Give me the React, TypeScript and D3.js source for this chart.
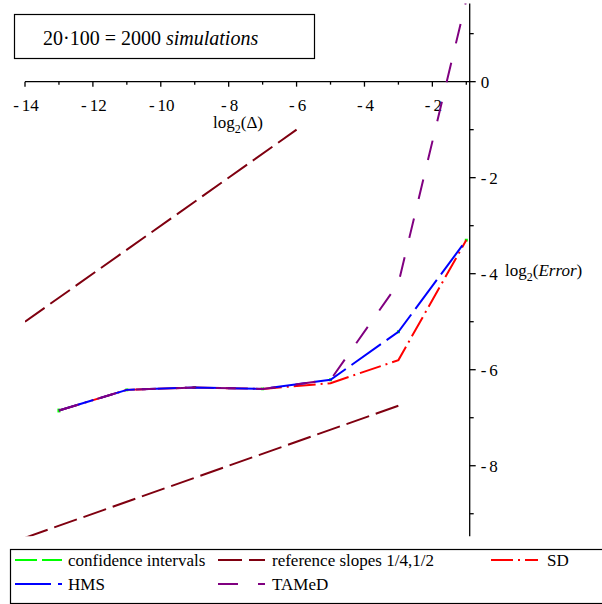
import React from "react";
import * as d3 from "d3";

// ---- data (log2 scale) ----
const xValues = [-13, -11, -9, -7, -5, -3, -1];
const hmsValues = [-6.85, -6.42, -6.37, -6.4, -6.21, -5.21, -3.3];
const sdValues = [-6.85, -6.42, -6.37, -6.4, -6.28, -5.8, -3.3];
const tamedValues = [-6.85, -6.42, -6.37, -6.4, -6.21, -4.2, 1.7];
const ciLow = [-6.89, -6.45, -6.4, -6.43, -6.24, -5.24, -3.33];
const ciHigh = [-6.81, -6.39, -6.34, -6.37, -6.18, -5.18, -3.27];
const refHalfX = [-14, -6];
const refHalfY = [-5, -1];
const refQuarterX = [-14, -3];
const refQuarterY = [-9.5, -6.75];
const xMajorTicks = [-14, -12, -10, -8, -6, -4, -2];
const xMinorTicks = [-13, -11, -9, -7, -5, -3, -1];
const yMajorTicks = [0, -2, -4, -6, -8];
const yMinorTicks = [1, -1, -3, -5, -7, -9];

const FONT =
  '"Times New Roman", Times, "Liberation Serif", Tinos, "Noto Serif", "DejaVu Serif", "Nimbus Roman", "FreeSerif", serif';

const x = d3.scaleLinear().domain([-14, -0.9]).range([25, 469.7]);
const y = d3.scaleLinear().domain([1.63, -9.47]).range([3.4, 536.3]);

type Pt = [number, number];
const line = d3
  .line<Pt>()
  .x((d) => x(d[0]))
  .y((d) => y(d[1]));

const zip = (xs: number[], ys: number[]): Pt[] => xs.map((v, i) => [v, ys[i]]);

const COLORS = {
  ci: "#00ff00",
  ref: "#7f0010",
  sd: "#ff0000",
  hms: "#0000ff",
  tamed: "#800080",
};
const DASH = {
  ci: "22 5",
  ref: "24 7",
  sd: "22 5 2 5",
  hms: "36 7",
  tamed: "20 20",
};

const textStyle: React.CSSProperties = { fontFamily: FONT };

function Minus({ v }: { v: number }) {
  if (v < 0)
    return (
      <>
        <tspan>-</tspan>
        <tspan dx={3}>{String(Math.abs(v))}</tspan>
      </>
    );
  return <tspan>{String(v)}</tspan>;
}

export default function App() {
  const axisY = y(0);
  const axisX = x(-0.9);
  const legendRows = [
    [
      { label: "confidence intervals", color: COLORS.ci, dash: DASH.ci, lx: 15, tx: 68 },
      { label: "reference slopes 1/4,1/2", color: COLORS.ref, dash: DASH.ref, lx: 218, tx: 272 },
      { label: "SD", color: COLORS.sd, dash: DASH.sd, lx: 491, tx: 547 },
    ],
    [
      { label: "HMS", color: COLORS.hms, dash: DASH.hms, lx: 15, tx: 68 },
      { label: "TAMeD", color: COLORS.tamed, dash: DASH.tamed, lx: 218, tx: 272 },
    ],
  ];
  return (
    <svg
      width={602}
      height={604}
      style={{ position: "absolute", left: 0, top: 0, background: "#fff", fontFamily: FONT }}
    >
      <defs>
        <clipPath id="plot">
          <rect x={x(-14)} y={y(1.63)} width={x(-0.9) - x(-14)} height={y(-9.47) - y(1.63)} />
        </clipPath>
      </defs>

      {/* axes */}
      <g stroke="#000" strokeWidth={1.3}>
        <line x1={x(-14)} x2={axisX} y1={axisY} y2={axisY} />
        <line x1={axisX} x2={axisX} y1={y(1.63)} y2={y(-9.47)} />
        {xMajorTicks.map((t) => (
          <line key={"xM" + t} x1={x(t)} x2={x(t)} y1={axisY} y2={axisY + 5} />
        ))}
        {xMinorTicks.map((t) => (
          <line key={"xm" + t} x1={x(t)} x2={x(t)} y1={axisY} y2={axisY + 3} />
        ))}
        {yMajorTicks.map((t) => (
          <line key={"yM" + t} x1={axisX} x2={axisX + 6} y1={y(t)} y2={y(t)} />
        ))}
        {yMinorTicks.map((t) => (
          <line key={"ym" + t} x1={axisX} x2={axisX + 4} y1={y(t)} y2={y(t)} />
        ))}
      </g>
      <g fontSize={17} fill="#000" style={textStyle}>
        {xMajorTicks.map((t) => (
          <text key={"xl" + t} x={x(t) + 1} y={axisY + 29} textAnchor="middle" style={textStyle}>
            <Minus v={t} />
          </text>
        ))}
        {yMajorTicks.map((t) => (
          <text key={"yl" + t} x={axisX + 11} y={y(t) + 6} textAnchor="start" style={textStyle}>
            <Minus v={t} />
          </text>
        ))}
        <text x={213} y={128} style={textStyle}>
          log<tspan fontSize={12} dy={5}>2</tspan>
          <tspan dy={-5}>(Δ)</tspan>
        </text>
        <text x={505} y={276} style={textStyle}>
          log<tspan fontSize={12} dy={5}>2</tspan>
          <tspan dy={-5}>(</tspan>
          <tspan fontStyle="italic">Error</tspan>
          <tspan>)</tspan>
        </text>
      </g>

      {/* series */}
      <g clipPath="url(#plot)" fill="none" strokeWidth={2}>
        <path d={line(zip(refHalfX, refHalfY)) || ""} stroke={COLORS.ref} strokeDasharray={DASH.ref} />
        <path d={line(zip(refQuarterX, refQuarterY)) || ""} stroke={COLORS.ref} strokeDasharray={DASH.ref} />
        {xValues.map((v, i) => (
          <line
            key={"ci" + v}
            x1={x(v)}
            x2={x(v)}
            y1={y(ciLow[i])}
            y2={y(ciHigh[i])}
            stroke={COLORS.ci}
            strokeWidth={3}
          />
        ))}
        <path d={line(zip(xValues, sdValues)) || ""} stroke={COLORS.sd} strokeDasharray={DASH.sd} />
        <path d={line(zip(xValues, hmsValues)) || ""} stroke={COLORS.hms} strokeDasharray={DASH.hms} />
        <path d={line(zip(xValues, tamedValues)) || ""} stroke={COLORS.tamed} strokeDasharray={DASH.tamed} />
      </g>

      {/* title box */}
      <rect x={14.5} y={14.5} width={300} height={44} fill="#fff" stroke="#000" strokeWidth={1.2} />
      <text x={43} y={45} fontSize={20} style={textStyle}>
        20·100 = 2000 <tspan fontStyle="italic">simulations</tspan>
      </text>

      {/* legend */}
      <rect x={10.5} y={549.5} width={600} height={54} fill="#fff" stroke="#000" strokeWidth={1.2} />
      {legendRows.map((row, ri) =>
        row.map((it) => {
          const ly = 560 + ri * 24;
          return (
            <g key={it.label}>
              <line
                x1={it.lx}
                x2={it.lx + 47}
                y1={ly}
                y2={ly}
                stroke={it.color}
                strokeWidth={2}
                strokeDasharray={it.dash}
              />
              <text x={it.tx} y={ly + 5.5} fontSize={17} style={textStyle}>
                {it.label}
              </text>
            </g>
          );
        })
      )}
    </svg>
  );
}
